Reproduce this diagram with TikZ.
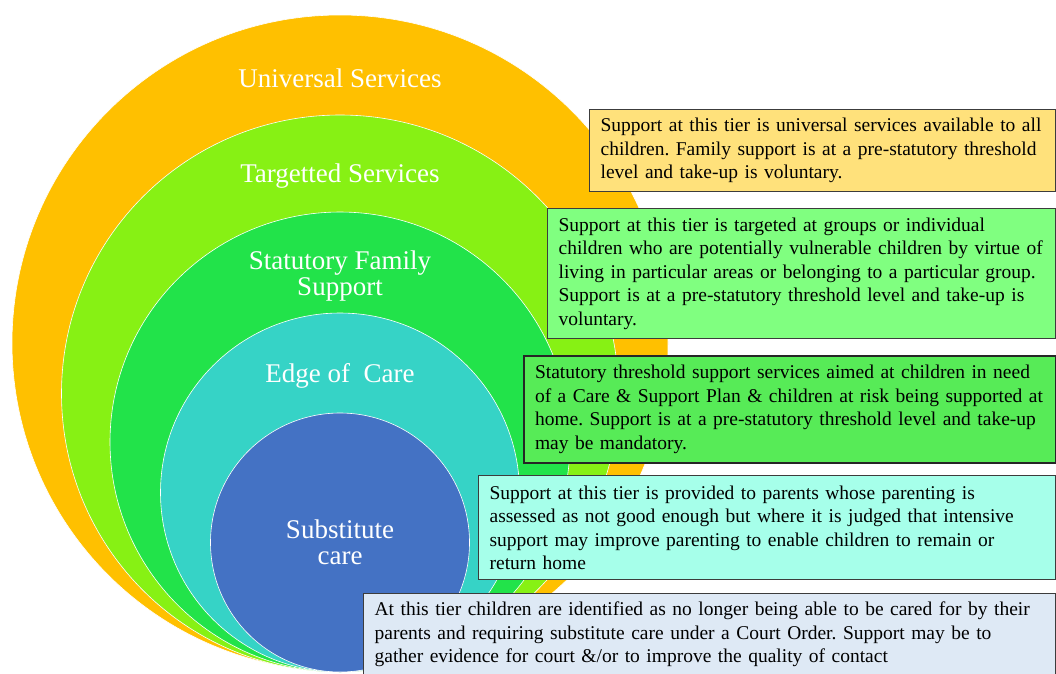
\documentclass[tikz,border=0pt]{standalone}
\usepackage{fontspec}
\setmainfont{Liberation Serif}
\usetikzlibrary{positioning}
\definecolor{universal}{HTML}{FFC000}
\definecolor{targetted}{HTML}{87F114}
\definecolor{statutory}{HTML}{22E34A}
\definecolor{edgecare}{HTML}{36D3C6}
\definecolor{substitute}{HTML}{4472C4}
\definecolor{boxa}{HTML}{FFE17B}
\definecolor{boxb}{HTML}{80FF80}
\definecolor{boxc}{HTML}{57EB57}
\definecolor{boxd}{HTML}{A6FFEA}
\definecolor{boxe}{HTML}{DEE9F5}
\definecolor{boxline}{HTML}{3C3C3C}
\frenchspacing

\begin{document}
\begin{tikzpicture}[x=1pt, y=-1pt]
\clip (0,0) rectangle (1056,673);

\begin{scope}[every node/.style={shape=circle, draw=white, line width=0.6pt, inner sep=0pt}]
    \node[fill=universal, minimum size=656pt] (a) at (340,343) {};
    \node[fill=targetted, minimum size=557pt] (b) at (340,393.5) {};
    \node[fill=statutory, minimum size=460pt] (c) at (340,442) {};
    \node[fill=edgecare, minimum size=359pt] (d) at (340,492.5) {};
    \node[fill=substitute, minimum size=259pt] (e) at (340,542.5) {};
\end{scope}

\begin{scope}[every node/.style={text=white, align=center, font=\fontsize{27}{26}\selectfont}]
    \node (a1) at (340,78) {Universal Services};
    \node (b1) at (340,176) {Targetted Services};
    \node (c1) at (340,276) {Statutory Family\\Support};
    \node (d1) at (340,376) {Edge of~ Care};
    \node (e1) at (340,542) {Substitute\\care};
\end{scope}

\begin{scope}[every node/.style={shape=rectangle, draw=boxline, line width=1.2pt,
    anchor=north west, align=left, inner xsep=11pt, inner ysep=0pt,
    font=\fontsize{19.5}{23.5}\selectfont}]
    \node[fill=boxa, text width=444pt, minimum height=82pt] (f) at (589,109)
      {Support at this tier is universal services available to all\\
       children. Family support is at a pre-statutory threshold\\
       level and take-up is voluntary.};
    \node[fill=boxb, text width=486pt, minimum height=130pt] (g) at (547,208)
      {Support at this tier is targeted at groups or individual\\
       children who are potentially vulnerable children by virtue of\\
       living in particular areas or belonging to a particular group.\\
       Support is at a pre-statutory threshold level and take-up is\\
       voluntary.};
    \node[fill=boxc, draw=black!85, line width=2pt, text width=510pt, minimum height=107pt] (h) at (523,355)
      {Statutory threshold support services aimed at children in need\\
       of a Care \& Support Plan \& children at risk being supported at\\
       home. Support is at a pre-statutory threshold level and take-up\\
       may be mandatory.};
    \node[fill=boxd, text width=555pt, minimum height=104pt] (i) at (478,475)
      {Support at this tier is provided to parents whose parenting is\\
       assessed as not good enough but where it is judged that intensive\\
       support may improve parenting to enable children to remain or\\
       return home};
    \node[fill=boxe, text width=670pt, minimum height=82pt] (j) at (363,593)
      {At this tier children are identified as no longer being able to be cared for by their\\
       parents and requiring substitute care under a Court Order. Support may be to\\
       gather evidence for court \&/or to improve the quality of contact};
\end{scope}
\end{tikzpicture}
\end{document}
